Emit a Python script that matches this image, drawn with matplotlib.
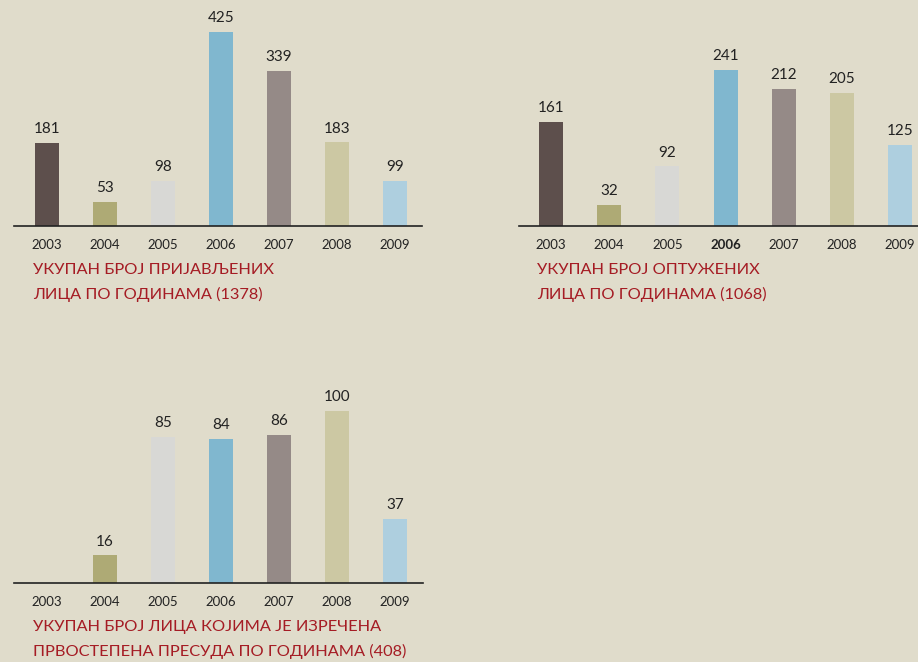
import matplotlib.pyplot as plt

years = ['2003', '2004', '2005', '2006', '2007', '2008', '2009']

reported = [181, 53, 98, 425, 339, 183, 99]
accused = [161, 32, 92, 241, 212, 205, 125]
sentenced = [0, 16, 85, 84, 86, 100, 37]

title_reported = ['УКУПАН БРОЈ ПРИЈАВЉЕНИХ', 'ЛИЦА ПО ГОДИНАМА (1378)']
title_accused = ['УКУПАН БРОЈ ОПТУЖЕНИХ', 'ЛИЦА ПО ГОДИНАМА (1068)']
title_sentenced = ['УКУПАН БРОЈ ЛИЦА КОЈИМА ЈЕ ИЗРЕЧЕНА',
                   'ПРВОСТЕПЕНА ПРЕСУДА ПО ГОДИНАМА (408)']

bar_colors = ['#5d4f4c', '#aeaa75', '#d8d8d5', '#80b7cf', '#958a87', '#ccc8a3', '#aecfdf']
bg = '#e0dccb'
red = '#a51c24'

plt.rcParams['font.family'] = ['Lato', 'DejaVu Sans']

W, H = 918, 662
fig = plt.figure(figsize=(W / 100, H / 100), dpi=100)
fig.patch.set_facecolor(bg)


def panel(values, title, x_line, first_center, step, y_base, px_per_unit, top,
          title_x, bold_year=None):
    # axes placed in pixel coordinates, bars on positions 0..6
    x0, x1 = x_line
    left = (x0 - first_center) / step
    right = (x1 - first_center) / step
    height_px = y_base - top
    ax = fig.add_axes([x0 / W, 1 - y_base / H, (x1 - x0) / W, height_px / H])
    ax.set_facecolor('none')
    ax.set_xlim(left, right)
    ax.set_ylim(0, height_px / px_per_unit)
    pos = list(range(len(values)))
    ax.bar(pos, values, width=24 / step, color=bar_colors, zorder=2)
    for i, v in enumerate(values):
        if v:
            ax.annotate(str(v), (i, v), xytext=(0, 5), textcoords='offset points',
                        ha='center', va='bottom', fontsize=11, color='#222222')
    for s in ['top', 'right', 'left']:
        ax.spines[s].set_visible(False)
    ax.spines['bottom'].set_color('#222222')
    ax.spines['bottom'].set_linewidth(1.2)
    ax.spines['bottom'].set_zorder(3)
    ax.set_yticks([])
    ax.set_xticks(pos)
    ax.set_xticklabels(years, fontsize=9.5, color='#222222')
    ax.tick_params(axis='x', length=0, pad=9.5)
    if bold_year is not None:
        ax.get_xticklabels()[bold_year].set_fontweight('bold')
    for k, line in enumerate(title):
        fig.text(title_x / W, 1 - (y_base + 44 + 24 * k) / H, line, ha='left',
                 va='center', fontsize=11.8, color=red)
    return ax


panel(reported, title_reported, (14, 422), 47, 58, 226, 194 / 425, 0, 33)
panel(accused, title_accused, (519, 918), 551, 58.2, 226, 156 / 241, 0, 537,
      bold_year=3)
panel(sentenced, title_sentenced, (14, 423), 47, 58, 583, 172 / 100, 360, 33)

fig.savefig('out.png', dpi=100, facecolor=bg)
